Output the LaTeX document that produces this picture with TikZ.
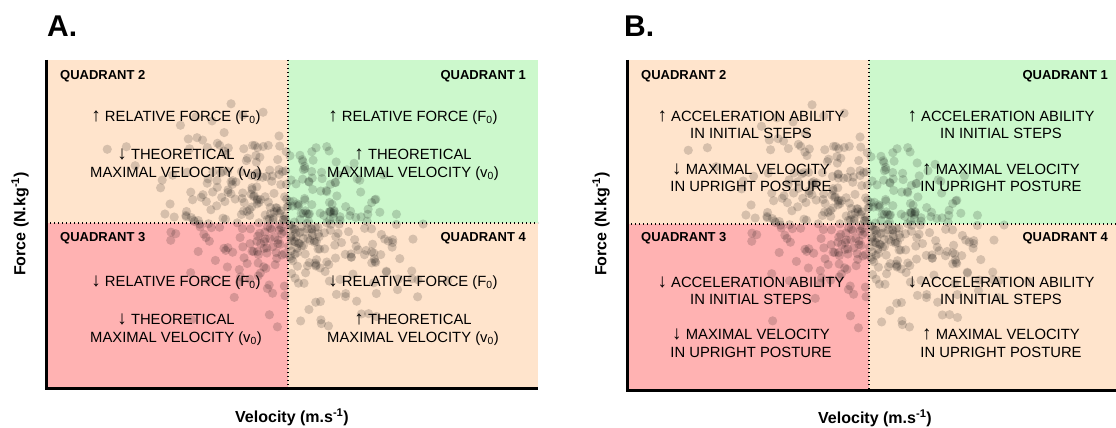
\documentclass[tikz,border=0pt]{standalone}
\usepackage{fontspec}
\setmainfont{Liberation Sans}
\definecolor{peach}{RGB}{255,228,204}
\definecolor{mint}{RGB}{204,248,204}
\definecolor{rose}{RGB}{255,178,178}
\newcommand\uparr{{\fontsize{19}{17}\selectfont ↑}}
\newcommand\dnarr{{\fontsize{19}{17}\selectfont ↓}}
\tikzset{
 qtitle/.style={font=\bfseries\fontsize{13}{15}\selectfont, inner sep=0pt},
 qtext/.style={font=\fontsize{14.8}{17}\selectfont, inner sep=0pt, anchor=base},
 dot/.style={fill=black, fill opacity=0.16},
 divider/.style={line width=1.2pt, dash pattern=on 1.2pt off 2.8pt},
 axisline/.style={line width=3pt},
 axlabel/.style={font=\bfseries\fontsize{16}{18}\selectfont, inner sep=0pt},
 paneltag/.style={font=\bfseries\fontsize{30}{32}\selectfont, inner sep=0pt, anchor=base west},
}
\newcommand\myscatter[2]{%
 \pgfmathsetseed{4242}%
 \foreach \k in {1,...,430}{%
  \pgfmathsetmacro\ua{0.002+0.998*rnd}%
  \pgfmathsetmacro\ub{360*rnd}%
  \pgfmathsetmacro\rr{sqrt(-2*ln(\ua))}%
  \pgfmathsetmacro\ga{\rr*cos(\ub)}%
  \pgfmathsetmacro\gb{\rr*sin(\ub)}%
  \fill[dot] ({#1+55*\ga},{#2+42*(0.3*\ga+0.95*\gb)}) circle[radius=4.6pt];
 }%
}
\begin{document}
\begin{tikzpicture}[x=1pt,y=-1pt]
\useasboundingbox (0,0) rectangle (1116,428);
% ---------------- Panel A ----------------
\node[paneltag] (tagA) at (47,37) {A.};
\fill[peach] (46,60) rectangle (288,223);
\fill[mint]  (288,60) rectangle (538,223);
\fill[rose]  (46,223) rectangle (288,388);
\fill[peach] (288,223) rectangle (538,388);
\node[qtitle, anchor=base west] (a2) at (60,80) {QUADRANT 2};
\node[qtitle, anchor=base east] (a1) at (526,80) {QUADRANT 1};
\node[qtitle, anchor=base west] (a3) at (60,241) {QUADRANT 3};
\node[qtitle, anchor=base east] (a4) at (526,241) {QUADRANT 4};
\node[qtext] (a2l1) at (176,121.5) {\uparr\ RELATIVE FORCE (F\textsubscript{0})};
\node[qtext] (a2l2) at (176,159.5) {\dnarr\ THEORETICAL};
\node[qtext] (a2l3) at (176,177.5) {MAXIMAL VELOCITY (v\textsubscript{0})};
\node[qtext] (a1l1) at (413,121.5) {\uparr\ RELATIVE FORCE (F\textsubscript{0})};
\node[qtext] (a1l2) at (413,159.5) {\uparr\ THEORETICAL};
\node[qtext] (a1l3) at (413,177.5) {MAXIMAL VELOCITY (v\textsubscript{0})};
\node[qtext] (a3l1) at (176,286.5) {\dnarr\ RELATIVE FORCE (F\textsubscript{0})};
\node[qtext] (a3l2) at (176,324.5) {\dnarr\ THEORETICAL};
\node[qtext] (a3l3) at (176,342.5) {MAXIMAL VELOCITY (v\textsubscript{0})};
\node[qtext] (a4l1) at (413,286.5) {\dnarr\ RELATIVE FORCE (F\textsubscript{0})};
\node[qtext] (a4l2) at (413,324.5) {\uparr\ THEORETICAL};
\node[qtext] (a4l3) at (413,342.5) {MAXIMAL VELOCITY (v\textsubscript{0})};
\begin{scope}
 \clip (46,60) rectangle (538,388);
 \myscatter{288}{223}
\end{scope}
\draw[divider] (288,60) -- (288,388);
\draw[divider] (46,223) -- (538,223);
\draw[axisline] (46,60) -- (46,388) -- (538,388);
\node[axlabel, rotate=90] (ya) at (20,224) {Force (N.kg\textsuperscript{-1})};
\node[axlabel] (xa) at (292,417) {Velocity (m.s\textsuperscript{-1})};
% ---------------- Panel B ----------------
\node[paneltag] (tagB) at (624,37) {B.};
\fill[peach] (627,60) rectangle (869,224);
\fill[mint]  (869,60) rectangle (1119,224);
\fill[rose]  (627,224) rectangle (869,390);
\fill[peach] (869,224) rectangle (1119,390);
\node[qtitle, anchor=base west] (b2) at (641,80) {QUADRANT 2};
\node[qtitle, anchor=base east] (b1) at (1108,80) {QUADRANT 1};
\node[qtitle, anchor=base west] (b3) at (641,241) {QUADRANT 3};
\node[qtitle, anchor=base east] (b4) at (1108,241) {QUADRANT 4};
\node[qtext] (b2l1) at (751,121.5) {\uparr\ ACCELERATION ABILITY};
\node[qtext] (b2l2) at (751,138.5) {IN INITIAL STEPS};
\node[qtext] (b2l3) at (751,174.5) {\dnarr\ MAXIMAL VELOCITY};
\node[qtext] (b2l4) at (751,191.5) {IN UPRIGHT POSTURE};
\node[qtext] (b1l1) at (1001,121.5) {\uparr\ ACCELERATION ABILITY};
\node[qtext] (b1l2) at (1001,138.5) {IN INITIAL STEPS};
\node[qtext] (b1l3) at (1001,174.5) {\uparr\ MAXIMAL VELOCITY};
\node[qtext] (b1l4) at (1001,191.5) {IN UPRIGHT POSTURE};
\node[qtext] (b3l1) at (751,287.5) {\dnarr\ ACCELERATION ABILITY};
\node[qtext] (b3l2) at (751,304.5) {IN INITIAL STEPS};
\node[qtext] (b3l3) at (751,339.5) {\dnarr\ MAXIMAL VELOCITY};
\node[qtext] (b3l4) at (751,357.5) {IN UPRIGHT POSTURE};
\node[qtext] (b4l1) at (1001,287.5) {\dnarr\ ACCELERATION ABILITY};
\node[qtext] (b4l2) at (1001,304.5) {IN INITIAL STEPS};
\node[qtext] (b4l3) at (1001,339.5) {\uparr\ MAXIMAL VELOCITY};
\node[qtext] (b4l4) at (1001,357.5) {IN UPRIGHT POSTURE};
\begin{scope}
 \clip (627,60) rectangle (1119,390);
 \myscatter{869}{224}
\end{scope}
\draw[divider] (869,60) -- (869,390);
\draw[divider] (627,224) -- (1119,224);
\draw[axisline] (627,60) -- (627,390) -- (1119,390);
\node[axlabel, rotate=90] (yb) at (601,224) {Force (N.kg\textsuperscript{-1})};
\node[axlabel] (xb) at (875,418) {Velocity (m.s\textsuperscript{-1})};
\end{tikzpicture}
\end{document}
